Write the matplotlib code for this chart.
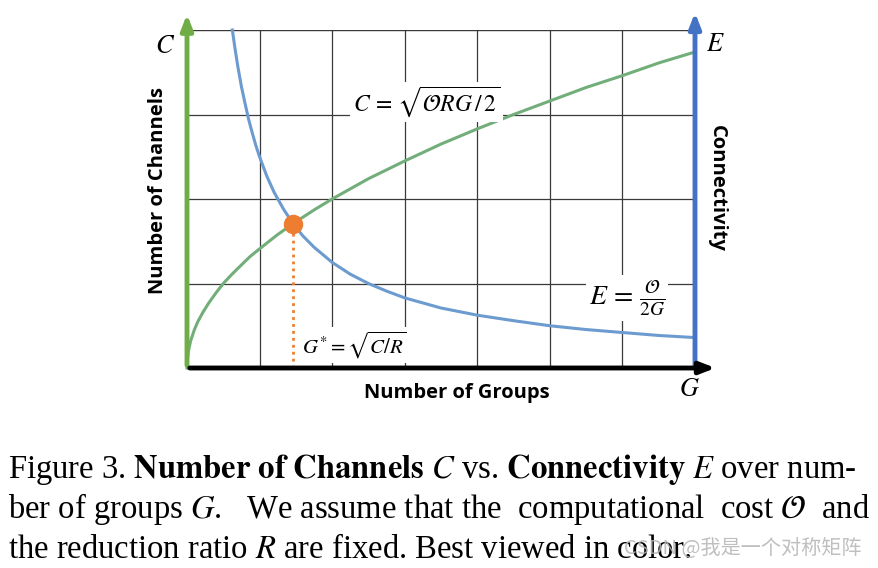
import matplotlib
matplotlib.use("Agg")
import matplotlib.pyplot as plt

plt.rcParams["mathtext.fontset"] = "stix"
plt.rcParams["font.family"] = ["Liberation Serif", "DejaVu Sans"]

# values (grid units: 7 columns x 4 rows)
groups_c = [0, 0.005, 0.02, 0.05, 0.1, 0.15, 0.22, 0.3, 0.4, 0.5, 0.62, 0.75, 0.87, 1.0, 1.25, 1.5,
            1.75, 2.0, 2.5, 3.0, 3.5, 4.0, 4.5, 5.0, 5.5, 6.0, 6.5, 7.0]
channels = [0, 0.1, 0.2, 0.32, 0.45, 0.55, 0.66, 0.77, 0.89, 1.0, 1.11, 1.22, 1.32, 1.41, 1.58, 1.73,
            1.87, 2.0, 2.24, 2.45, 2.65, 2.83, 3.0, 3.16, 3.32, 3.46, 3.61, 3.74]

groups_e = [0.625, 0.66, 0.7, 0.75, 0.8, 0.85, 0.9, 0.95, 1.0, 1.1, 1.2, 1.33, 1.46, 1.6, 1.75, 2.0,
            2.25, 2.5, 2.75, 3.0, 3.5, 4.0, 4.5, 5.0, 5.5, 6.0, 6.5, 7.0]
connectivity = [4.0, 3.79, 3.57, 3.33, 3.13, 2.94, 2.78, 2.63, 2.5, 2.27, 2.08, 1.88, 1.71, 1.56,
                1.43, 1.25, 1.11, 1.0, 0.91, 0.83, 0.71, 0.625, 0.56, 0.5, 0.455, 0.42, 0.385, 0.36]

g_star = 1.46
c_star = 1.71

W, H = 879, 568
fig = plt.figure(figsize=(W / 100, H / 100), dpi=100)
ax = fig.add_axes([187 / W, (H - 368) / H, 508 / W, 338 / H])
ax.set_xlim(0, 7)
ax.set_ylim(0, 4)
ax.set_xticks(range(8))
ax.set_yticks(range(5))
ax.tick_params(length=0, labelbottom=False, labelleft=False)
for s in ax.spines.values():
    s.set_visible(False)
ax.grid(True, color="#3a3a3a", lw=0.9, zorder=0)
ax.axhline(4, color="#a0a0a0", lw=1.0, zorder=1)

green_curve = "#72AE7A"
blue_curve = "#6C9BD0"
ax.plot(groups_c, channels, color=green_curve, lw=2.2, zorder=3, clip_on=False)
ax.plot(groups_e, connectivity, color=blue_curve, lw=2.2, zorder=3, clip_on=False)

ax.plot([g_star, g_star], [0, c_star], color="#ED7D31", lw=2, ls=(0, (1, 1.5)), zorder=3)
ax.plot([g_star], [c_star], "o", color="#ED7D31", ms=13, zorder=5)

# axes arrows
head = "-|>,head_length=0.9,head_width=0.35"
ax.annotate("", xy=(0, 4.22), xytext=(0, 0),
            arrowprops=dict(arrowstyle=head, color="#70AD47", lw=3.5),
            annotation_clip=False, zorder=4)
ax.annotate("", xy=(7, 4.24), xytext=(7, 0),
            arrowprops=dict(arrowstyle=head, color="#4472C4", lw=3.5),
            annotation_clip=False, zorder=4)
ax.annotate("", xy=(7.32, 0), xytext=(0, 0),
            arrowprops=dict(arrowstyle=head, color="black", lw=3.5),
            annotation_clip=False, zorder=6)

bb = dict(facecolor="white", edgecolor="none", pad=2)
ax.text(3.3, 3.15, r"$C\,=\,\sqrt{\mathcal{O}RG\,/\,2}$", fontsize=17, ha="center", va="center", bbox=bb, zorder=4)
ax.text(6.06, 0.83, r"$E\,=\,\frac{\mathcal{O}}{2G}$", fontsize=20, ha="center", va="center", bbox=bb, zorder=4)
ax.text(2.3, 0.27, r"$G^{*}=\sqrt{C/R}$", fontsize=15, ha="center", va="center", bbox=bb, zorder=4)

ax.text(-0.3, 3.8, r"$C$", fontsize=19, ha="center", va="center", clip_on=False)
ax.text(7.28, 3.82, r"$E$", fontsize=19, ha="center", va="center", clip_on=False)
ax.text(6.93, -0.26, r"$G$", fontsize=19, ha="center", va="center", clip_on=False)

sans = ["Open Sans", "DejaVu Sans"]
ax.text(-0.4, 2.1, "Number of Channels", family=sans, fontweight="bold", fontsize=14.5,
        rotation=90, ha="center", va="center", clip_on=False)
ax.text(7.3, 2.12, "Connectivity", family=sans, fontweight="bold", fontsize=14.5,
        rotation=-90, ha="center", va="center", clip_on=False)
ax.text(3.72, -0.3, "Number of Groups", family=sans, fontweight="bold", fontsize=14.5,
        ha="center", va="center", clip_on=False)

# caption
cap = 23.5
fig.text(8 / W, 1 - 478 / H,
         r"Figure 3. $\mathbf{Number\ of\ Channels}$ $C$ vs. $\mathbf{Connectivity}$ $E$ over num-",
         fontsize=cap, va="baseline", ha="left")
fig.text(8 / W, 1 - 518 / H,
         r"ber of groups $G$.   We assume that the  computational  cost $\mathcal{O}$  and",
         fontsize=cap, va="baseline", ha="left")
fig.text(8 / W, 1 - 558 / H,
         r"the reduction ratio $R$ are fixed. Best viewed in color.",
         fontsize=cap, va="baseline", ha="left")
fig.text(862 / W, 1 - 548 / H, "CSDN @我是一个对称矩阵", family=["Noto Sans CJK SC", "DejaVu Sans"],
         fontsize=14.5, color="#b4b4b4", alpha=0.85, ha="right", va="center")

fig.savefig("out.png", dpi=100)
